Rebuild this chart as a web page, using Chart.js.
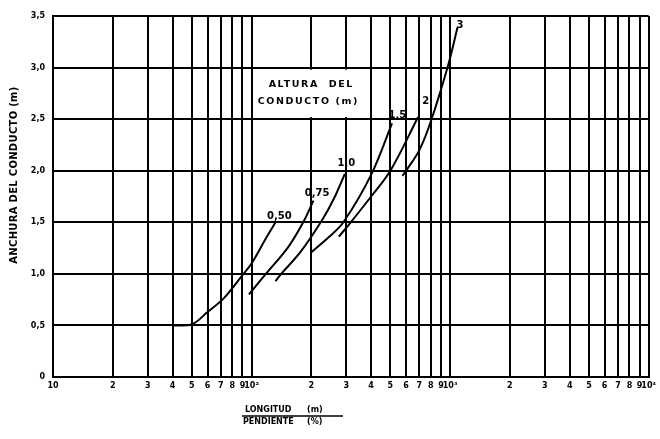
<!DOCTYPE html>
<html lang="es">
<head>
  <meta charset="UTF-8">
  <title>Anchura del conducto</title>
  <script src="https://cdn.jsdelivr.net/npm/chart.js"></script>
  <style>
    html, body {
      margin: 0;
      padding: 0;
      background: #fff;
    }
    #wrap {
      width: 660px;
      height: 439px;
    }
  </style>
</head>
<body>
  <div id="wrap"><canvas id="chart" width="660" height="439"></canvas></div>

  <script>
    // Axis ticks
    const xTickValues = [10, 20, 30, 40, 50, 60, 70, 80, 90,
                         100, 200, 300, 400, 500, 600, 700, 800, 900,
                         1000, 2000, 3000, 4000, 5000, 6000, 7000, 8000, 9000, 10000];
    const xTickLabels = ['10', '2', '3', '4', '5', '6', '7', '8', '9',
                         '10²', '2', '3', '4', '5', '6', '7', '8', '9',
                         '10³', '2', '3', '4', '5', '6', '7', '8', '9', '10⁴'];
    const yTickValues = [0, 0.5, 1, 1.5, 2, 2.5, 3, 3.5];
    const yTickLabels = ['0', '0,5', '1,0', '1,5', '2,0', '2,5', '3,0', '3,5'];

    // Curves: longitud/pendiente (x) vs anchura del conducto (y), one per altura
    const alturas = ['0,50', '0,75', '1,0', '1,5', '2', '3'];

    const ratio050 = [40, 50, 60, 73, 91, 100, 117, 132];
    const ancho050 = [0.5, 0.51, 0.63, 0.77, 1.0, 1.1, 1.33, 1.5];

    const ratio075 = [97, 118, 153, 182, 205];
    const ancho075 = [0.8, 1.0, 1.26, 1.5, 1.71];

    const ratio10 = [132, 141, 176, 228, 260, 295];
    const ancho10 = [0.93, 1.0, 1.21, 1.53, 1.73, 1.97];

    const ratio15 = [200, 246, 290, 400, 510];
    const ancho15 = [1.21, 1.36, 1.5, 1.96, 2.46];

    const ratio2 = [275, 310, 400, 500, 690];
    const ancho2 = [1.36, 1.48, 1.75, 2.0, 2.52];

    const ratio3 = [575, 600, 700, 800, 970, 1090];
    const ancho3 = [1.95, 2.0, 2.2, 2.48, 3.0, 3.39];

    // Where each curve label sits (data coords)
    const labelX = [138, 214, 300, 543, 753, 1122];
    const labelY = [1.56, 1.78, 2.07, 2.54, 2.67, 3.41];

    const curves = [
      [ratio050, ancho050],
      [ratio075, ancho075],
      [ratio10, ancho10],
      [ratio15, ancho15],
      [ratio2, ancho2],
      [ratio3, ancho3]
    ];

    const FONT = '"DejaVu Sans", sans-serif';

    const datasets = curves.map((c, i) => ({
      label: alturas[i],
      data: c[0].map((v, j) => ({ x: v, y: c[1][j] })),
      borderColor: '#000',
      borderWidth: 2,
      pointRadius: 0,
      fill: false,
      tension: 0.35
    }));

    // Extra drawing: legend box, curve labels, axis titles
    const overlay = {
      id: 'overlay',
      beforeDatasetsDraw(chart) {
        const { ctx, scales: { x, y } } = chart;
        // white patch behind "ALTURA DEL CONDUCTO (m)"
        const x0 = x.getPixelForValue(104);
        const x1 = x.getPixelForValue(362);
        const y0 = y.getPixelForValue(2.98);
        const y1 = y.getPixelForValue(2.52);
        ctx.save();
        ctx.fillStyle = '#fff';
        ctx.fillRect(x0, y0, x1 - x0, y1 - y0);
        ctx.fillStyle = '#000';
        ctx.font = 'bold 9.5px ' + FONT;
        ctx.textAlign = 'center';
        ctx.textBaseline = 'middle';
        ctx.letterSpacing = '1.6px';
        ctx.fillText('ALTURA  DEL', x.getPixelForValue(200), y.getPixelForValue(2.84));
        ctx.fillText('CONDUCTO (m)', x.getPixelForValue(193), y.getPixelForValue(2.67));
        ctx.restore();
      },
      afterDatasetsDraw(chart) {
        const { ctx, scales: { x, y } } = chart;
        ctx.save();
        ctx.fillStyle = '#000';
        ctx.font = 'bold 10px ' + FONT;
        ctx.textAlign = 'center';
        ctx.textBaseline = 'middle';
        alturas.forEach((name, i) => {
          ctx.fillText(name, x.getPixelForValue(labelX[i]), y.getPixelForValue(labelY[i]));
        });
        ctx.restore();
      },
      afterDraw(chart) {
        const ctx = chart.ctx;
        ctx.save();
        ctx.fillStyle = '#000';
        ctx.strokeStyle = '#000';

        // y axis title
        ctx.font = 'bold 10px ' + FONT;
        ctx.letterSpacing = '0.3px';
        ctx.textAlign = 'center';
        ctx.textBaseline = 'middle';
        ctx.translate(14, 175);
        ctx.rotate(-Math.PI / 2);
        ctx.fillText('ANCHURA DEL CONDUCTO (m)', 0, 0);
        ctx.restore();

        // x axis title as a fraction
        ctx.save();
        ctx.fillStyle = '#000';
        ctx.font = 'bold 8px ' + FONT;
        ctx.textAlign = 'left';
        ctx.textBaseline = 'middle';
        ctx.fillText('LONGITUD', 245, 410);
        ctx.fillText('(m)', 307, 410);
        ctx.fillText('PENDIENTE', 243, 422);
        ctx.fillText('(%)', 307, 422);
        ctx.lineWidth = 1.5;
        ctx.beginPath();
        ctx.moveTo(242, 416);
        ctx.lineTo(343, 416);
        ctx.stroke();
        ctx.restore();
      }
    };

    const ctx = document.getElementById('chart').getContext('2d');
    const chart = new Chart(ctx, {
      type: 'line',
      data: { datasets: datasets },
      options: {
        responsive: false,
        animation: false,
        layout: { padding: { left: 0, right: 11, top: 16, bottom: 0 } },
        plugins: {
          legend: { display: false },
          tooltip: { enabled: false }
        },
        scales: {
          x: {
            type: 'logarithmic',
            min: 10,
            max: 10000,
            afterBuildTicks: (scale) => {
              scale.ticks = xTickValues.map(v => ({ value: v }));
            },
            afterFit: (scale) => { scale.height = 62; },
            ticks: {
              autoSkip: false,
              maxRotation: 0,
              padding: 4,
              color: '#000',
              font: { family: FONT, size: 8, weight: 'bold' },
              callback: (val, i) => xTickLabels[i]
            },
            grid: { color: '#000', lineWidth: 2, drawTicks: false },
            border: { color: '#000', width: 2 }
          },
          y: {
            type: 'linear',
            min: 0,
            max: 3.5,
            afterBuildTicks: (scale) => {
              scale.ticks = yTickValues.map(v => ({ value: v }));
            },
            afterFit: (scale) => { scale.width = 53; },
            ticks: {
              padding: 8,
              color: '#000',
              font: { family: FONT, size: 8, weight: 'bold' },
              callback: (val, i) => yTickLabels[i]
            },
            grid: { color: '#000', lineWidth: 2, drawTicks: false },
            border: { color: '#000', width: 2 }
          }
        }
      },
      plugins: [overlay]
    });
  </script>
</body>
</html>
